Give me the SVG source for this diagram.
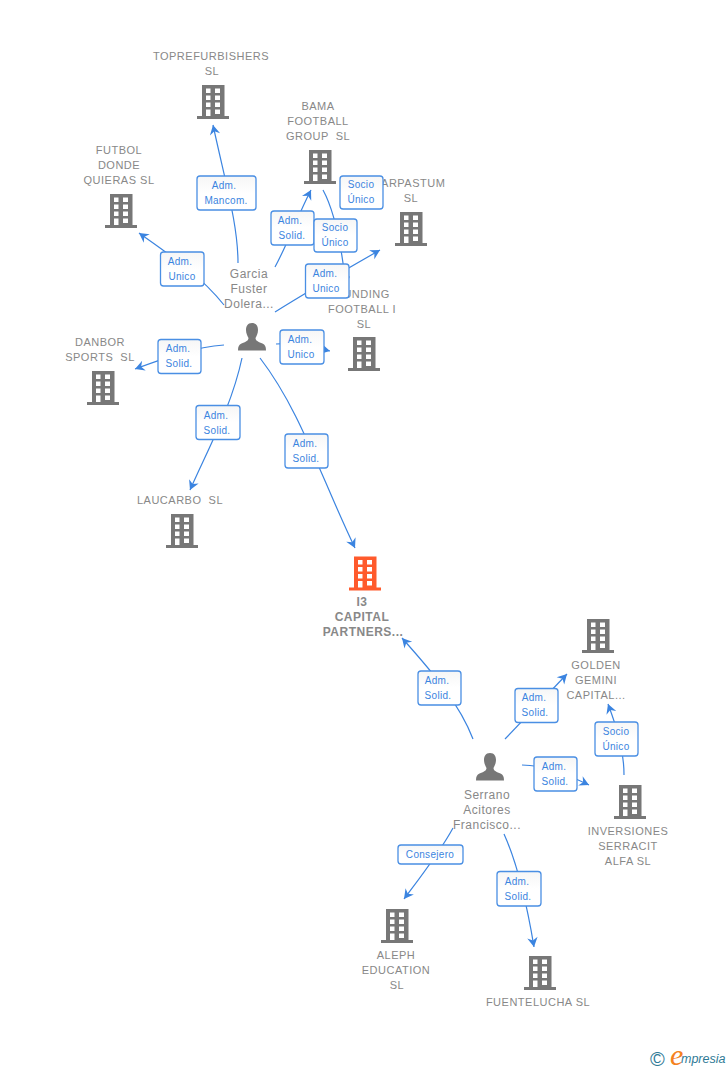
<svg xmlns="http://www.w3.org/2000/svg" width="728" height="1070" viewBox="0 0 728 1070">
<style>
text{font-family:"Liberation Sans",Arial,sans-serif;white-space:pre}
.n{font-size:11px;fill:#888;text-anchor:middle;letter-spacing:.5px}
.p{font-size:12px;fill:#888;text-anchor:middle;letter-spacing:.5px}
.i{font-size:12px;font-weight:bold;fill:#888;text-anchor:middle;letter-spacing:.5px}
.l{font-size:10px;fill:#3b84e0;text-anchor:middle;letter-spacing:.3px}
.c{fill:none;stroke:#3b84e0;stroke-width:1.2}
.b{fill:url(#lg);stroke:#4a8fe4;stroke-width:1.3}
</style>
<defs>
<linearGradient id="lg" x1="0" y1="0" x2="0" y2="1"><stop offset="0" stop-color="#f6f6f6"/><stop offset=".5" stop-color="#fff"/></linearGradient>
<marker id="a" markerUnits="userSpaceOnUse" markerWidth="12" markerHeight="12" viewBox="-11 -6 12 12" refX="0" refY="0" orient="auto"><path d="M0,0L-9.500,-5.200L-6.500,0L-9.500,5.200Z" fill="#3b84e0"/></marker>
<symbol id="bld" viewBox="0 0 32 34" width="32" height="34" overflow="visible">
<path fill-rule="evenodd" d="M5,0H27.500V31H32V34H0V31H5ZM9,3.500V8H13.500V3.500ZM18,3.500V8H23V3.500ZM9,10.500V15H13.500V10.500ZM18,10.500V15H23V10.500ZM9,17.500V22H13.500V17.500ZM18,17.500V22H23V17.500ZM9,24.500V31H13.500V24.500ZM18,24.500V29H23V24.500Z"/>
</symbol>
<symbol id="per" viewBox="0 0 28 28" width="28" height="28" overflow="visible">
<path d="M14,0C9.500,0 8,3.500 8,7C8,10.500 9.500,13 10.500,15C10.500,18 7,19 3.500,20.500C1,21.500 0,23.500 0,27.500H28C28,23.500 27,21.500 24.500,20.500C21,19 17.500,18 17.500,15C18.500,13 20,10.500 20,7C20,3.500 18.500,0 14,0Z" fill="#777"/>
</symbol>
</defs>
<rect width="728" height="1070" fill="#fff"/>
<g id="n-topre" fill="#777"><use href="#bld" x="197" y="85"/><text class="n" x="211" y="60">TOPREFURBISHERS</text><text class="n" x="212" y="75">SL</text></g>
<g id="n-bama" fill="#777"><use href="#bld" x="304" y="150"/><text class="n" x="318" y="110">BAMA</text><text class="n" x="318" y="125">FOOTBALL</text><text class="n" x="318" y="140">GROUP  SL</text></g>
<g id="n-futbol" fill="#777"><use href="#bld" x="105" y="194"/><text class="n" x="119" y="154">FUTBOL</text><text class="n" x="119" y="169">DONDE</text><text class="n" x="119" y="184">QUIERAS SL</text></g>
<g id="n-carpastum" fill="#777"><use href="#bld" x="395" y="212"/><text class="n" x="409" y="187">CARPASTUM</text><text class="n" x="411" y="202">SL</text></g>
<g id="n-funding" fill="#777"><use href="#bld" x="348" y="337"/><text class="n" x="363" y="298">FUNDING</text><text class="n" x="362" y="313">FOOTBALL I</text><text class="n" x="364" y="328">SL</text></g>
<g id="n-danbor" fill="#777"><use href="#bld" x="87" y="371"/><text class="n" x="100" y="346">DANBOR</text><text class="n" x="100" y="361">SPORTS  SL</text></g>
<g id="n-laucarbo" fill="#777"><use href="#bld" x="166" y="514"/><text class="n" x="180" y="504">LAUCARBO  SL</text></g>
<g id="n-i3" fill="#ff5a2c"><use href="#bld" x="349" y="556.500"/><text class="i" x="362" y="606">I3</text><text class="i" x="362" y="621">CAPITAL</text><text class="i" x="363" y="636">PARTNERS...</text></g>
<g id="n-golden" fill="#777"><use href="#bld" x="582" y="619"/><text class="n" x="596" y="669">GOLDEN</text><text class="n" x="596" y="684">GEMINI</text><text class="n" x="596" y="699">CAPITAL...</text></g>
<g id="n-inversiones" fill="#777"><use href="#bld" x="614" y="785"/><text class="n" x="628" y="835">INVERSIONES</text><text class="n" x="628" y="850">SERRACIT</text><text class="n" x="628" y="865">ALFA SL</text></g>
<g id="n-aleph" fill="#777"><use href="#bld" x="381" y="909"/><text class="n" x="396" y="959">ALEPH</text><text class="n" x="396" y="974">EDUCATION</text><text class="n" x="397" y="989">SL</text></g>
<g id="n-fuentelucha" fill="#777"><use href="#bld" x="524" y="956"/><text class="n" x="538" y="1006">FUENTELUCHA SL</text></g>
<g id="n-garcia"><use href="#per" x="238" y="323"/><text class="p" x="249" y="278">Garcia</text><text class="p" x="249" y="293">Fuster</text><text class="p" x="249" y="308">Dolera...</text></g>
<g id="n-serrano"><use href="#per" x="476" y="753"/><text class="p" x="487" y="799">Serrano</text><text class="p" x="487" y="814">Acitores</text><text class="p" x="487" y="829">Francisco...</text></g>
<g id="connectors">
<path class="c" marker-end="url(#a)" d="M238,263C238,225 226,185 213,125"/>
<path class="c" marker-end="url(#a)" d="M224,305C200,275 170,255 139,233"/>
<path class="c" marker-end="url(#a)" d="M275,267C288,243 298,215 311,190"/>
<path class="c" marker-end="url(#a)" d="M275,312C310,290 345,270 380,250"/>
<path class="c" marker-end="url(#a)" d="M323,190C335,212 342,250 346,286"/>
<path class="c" marker-end="url(#a)" d="M276,344C295,342 312,347 330,351"/>
<path class="c" marker-end="url(#a)" d="M224,345C195,347 165,358 135,369"/>
<path class="c" marker-end="url(#a)" d="M242,358C232,405 210,445 190,490"/>
<path class="c" marker-end="url(#a)" d="M260,358C300,410 320,475 355,548"/>
<path class="c" marker-end="url(#a)" d="M473,739C460,705 435,675 402,638"/>
<path class="c" marker-end="url(#a)" d="M505,739C525,718 545,697 567,674"/>
<path class="c" marker-end="url(#a)" d="M522,765C545,765 568,775 589,785"/>
<path class="c" marker-end="url(#a)" d="M624,775C624,750 617,728 608,704"/>
<path class="c" marker-end="url(#a)" d="M453,828C440,852 422,875 404,899"/>
<path class="c" marker-end="url(#a)" d="M504,834C518,865 527,905 534,947"/>
<g id="labels">
<rect class="b" x="197" y="176" width="59" height="34" rx="3"/><text class="l" x="224" y="189">Adm.</text><text class="l" x="226" y="204">Mancom.</text>
<rect class="b" x="160.500" y="252" width="43.500" height="34" rx="3"/><text class="l" x="180" y="265">Adm.</text><text class="l" x="182" y="280">Unico</text>
<rect class="b" x="271" y="211" width="43" height="34" rx="3"/><text class="l" x="290" y="224">Adm.</text><text class="l" x="292" y="239">Solid.</text>
<rect class="b" x="340" y="176" width="43" height="33" rx="3"/><text class="l" x="361" y="188">Socio</text><text class="l" x="361" y="203">Único</text>
<rect class="b" x="314" y="219" width="43" height="33" rx="3"/><text class="l" x="335" y="231">Socio</text><text class="l" x="335" y="246">Único</text>
<rect class="b" x="305.500" y="264" width="43.500" height="34" rx="3"/><text class="l" x="325" y="277">Adm.</text><text class="l" x="326" y="292">Unico</text>
<rect class="b" x="280" y="330" width="44" height="34" rx="3"/><text class="l" x="300" y="343">Adm.</text><text class="l" x="301" y="358">Unico</text>
<rect class="b" x="158" y="339.500" width="43" height="34" rx="3"/><text class="l" x="178" y="352">Adm.</text><text class="l" x="179" y="367">Solid.</text>
<rect class="b" x="196" y="405.500" width="44" height="34" rx="3"/><text class="l" x="216" y="419">Adm.</text><text class="l" x="217" y="434">Solid.</text>
<rect class="b" x="285" y="434" width="43" height="34" rx="3"/><text class="l" x="305" y="447">Adm.</text><text class="l" x="306" y="462">Solid.</text>
<rect class="b" x="418" y="671" width="43" height="34" rx="3"/><text class="l" x="437" y="684">Adm.</text><text class="l" x="438" y="699">Solid.</text>
<rect class="b" x="515" y="688.500" width="43" height="34" rx="3"/><text class="l" x="534" y="701">Adm.</text><text class="l" x="535" y="716">Solid.</text>
<rect class="b" x="534" y="757" width="43" height="34" rx="3"/><text class="l" x="554" y="770">Adm.</text><text class="l" x="555" y="785">Solid.</text>
<rect class="b" x="595" y="722" width="43" height="34" rx="3"/><text class="l" x="616" y="735">Socio</text><text class="l" x="616" y="750">Único</text>
<rect class="b" x="398" y="845" width="65" height="19" rx="3"/><text class="l" x="430" y="858">Consejero</text>
<rect class="b" x="497" y="871.500" width="44" height="34.500" rx="3"/><text class="l" x="517" y="885">Adm.</text><text class="l" x="518" y="900">Solid.</text>
</g>
</g>
<g id="logo">
<text x="650" y="1065.500" font-size="20" fill="#2f7a96">©</text>
<text x="670" y="1065" font-size="30" fill="#f58220" style="font-family:'Liberation Serif',serif;font-style:italic">e</text>
<text x="681" y="1063" font-size="12.500" fill="#2f7a96" style="font-style:italic">mpresia</text>
</g>
</svg>
